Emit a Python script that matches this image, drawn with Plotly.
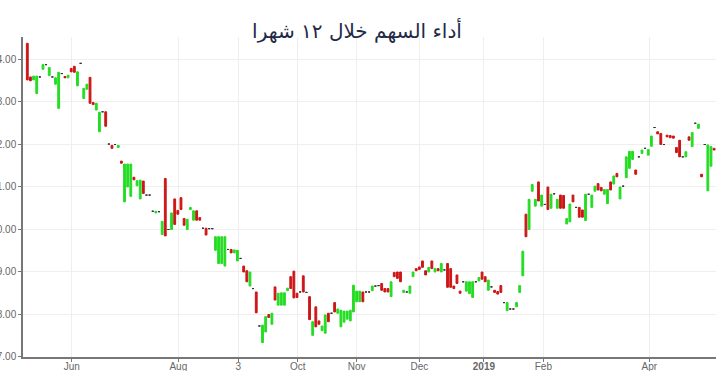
import numpy as np
import plotly.graph_objects as go

# Daily open / close prices (bodies only; equal values = unchanged day)
opens = [
    14.37, 13.58, 13.51, 13.19, 13.58, 13.76, 13.87, 13.61, 13.58, 13.41,
    12.84, 13.66, 13.59, 13.56, 13.78, 13.83, 13.37, 13.90, 13.07, 13.29,
    13.57, 12.98, 12.80, 12.29, 12.76, 12.76, 12.00, 11.97, 11.99, 11.92,
    11.60, 10.64, 10.99, 10.77, 11.22, 11.02, 10.71, 11.13, 10.80, 10.80,
    10.42, 10.38, 10.41, 9.87, 11.19, 9.99, 9.99, 10.71, 10.44, 10.74,
    10.25, 9.99, 10.46, 10.21, 10.43, 10.27, 10.02, 10.02, 10.01, 10.01,
    9.50, 9.19, 9.19, 9.13, 9.52, 9.52, 9.44, 9.25, 9.31, 9.13,
    9.02, 8.66, 8.60, 8.52, 7.72, 7.33, 7.58, 7.99, 7.76, 8.64,
    8.21, 8.21, 8.21, 8.55, 8.88, 9.01, 8.49, 8.52, 8.90, 8.51,
    8.41, 7.50, 8.17, 7.84, 7.61, 7.55, 8.02, 8.02, 8.27, 8.02,
    7.70, 7.81, 7.88, 7.84, 8.05, 8.29, 8.29, 8.52, 8.52, 8.52,
    8.55, 8.66, 8.67, 8.72, 8.60, 8.60, 8.41, 8.98, 8.99, 8.99,
    8.51, 8.52, 8.49, 8.88, 9.07, 9.11, 9.25, 9.02, 8.99, 9.25,
    8.99, 9.07, 8.99, 9.04, 9.19, 9.07, 8.66, 8.92, 8.54, 8.76,
    8.54, 8.48, 8.39, 8.76, 8.78, 8.99, 8.88, 8.56, 8.64, 8.56,
    8.53, 8.67, 8.27, 8.08, 8.12, 8.12, 8.17, 8.51, 8.90, 10.35,
    9.99, 10.89, 10.54, 11.11, 10.54, 10.58, 10.99, 10.49, 10.83, 10.49,
    10.80, 10.79, 10.12, 10.17, 10.80, 10.51, 10.51, 10.45, 10.20, 10.82,
    10.51, 10.89, 11.07, 10.98, 10.82, 10.60, 11.11, 11.06, 11.31, 10.71,
    11.01, 11.21, 11.43, 11.64, 11.39, 11.70, 11.78, 11.90, 11.74, 11.95,
    12.39, 12.29, 12.25, 11.99, 12.21, 12.20, 12.19, 11.92, 12.09, 11.70,
    11.70, 12.17, 11.94, 12.49, 12.37, 11.29, 11.99, 10.90, 11.48, 11.90,
]
closes = [
    13.51, 13.49, 13.60, 13.60, 13.58, 13.87, 13.87, 13.80, 13.58, 13.56,
    13.69, 13.66, 13.56, 13.62, 13.70, 13.69, 13.70, 13.90, 13.31, 13.41,
    12.96, 12.93, 12.96, 12.75, 12.76, 12.42, 12.00, 11.90, 11.99, 11.97,
    11.55, 11.53, 11.53, 11.53, 11.16, 11.14, 11.15, 10.84, 10.80, 10.80,
    10.42, 10.42, 10.41, 10.18, 9.84, 9.99, 10.38, 10.11, 10.35, 10.46,
    10.09, 10.23, 10.51, 10.43, 10.21, 10.21, 10.02, 9.86, 10.01, 10.01,
    9.82, 9.82, 9.82, 9.82, 9.52, 9.44, 9.51, 9.50, 9.31, 8.99,
    8.76, 8.99, 8.60, 8.03, 7.72, 7.74, 7.94, 7.92, 8.02, 8.33,
    8.49, 8.50, 8.50, 8.61, 8.60, 8.38, 8.39, 8.52, 8.52, 8.51,
    7.87, 7.82, 7.70, 7.76, 7.72, 7.98, 7.82, 8.02, 8.05, 8.12,
    8.09, 8.07, 8.07, 8.09, 8.68, 8.54, 8.54, 8.29, 8.52, 8.52,
    8.66, 8.66, 8.67, 8.56, 8.52, 8.52, 8.76, 8.88, 8.84, 8.76,
    8.56, 8.52, 8.66, 8.99, 9.02, 9.05, 9.10, 8.92, 9.10, 9.07,
    9.07, 9.02, 9.19, 9.04, 8.63, 8.63, 8.60, 8.72, 8.49, 8.76,
    8.76, 8.76, 8.76, 8.76, 8.86, 8.82, 8.76, 8.80, 8.64, 8.51,
    8.47, 8.51, 8.27, 8.27, 8.12, 8.12, 8.27, 8.67, 9.48, 9.82,
    10.70, 11.05, 10.70, 10.66, 10.80, 10.58, 10.46, 10.82, 10.83, 10.70,
    10.49, 10.49, 10.25, 10.59, 10.64, 10.51, 10.28, 10.28, 10.82, 10.82,
    10.80, 11.01, 10.92, 10.90, 10.93, 10.93, 10.92, 11.25, 11.23, 10.99,
    11.01, 11.70, 11.83, 11.83, 11.29, 11.70, 11.86, 11.90, 11.87, 12.19,
    12.39, 12.24, 11.99, 11.99, 12.17, 12.15, 12.14, 11.80, 11.70, 11.70,
    11.82, 12.09, 12.27, 12.49, 12.47, 11.23, 11.99, 11.98, 11.94, 11.86,
]

x_tick_pos = [14.16, 48.15, 67.29, 86.22, 105.04, 125.0, 145.6, 164.54, 198.34]
x_tick_text = ["Jun", "Aug", "3", "Oct", "Nov", "Dec", "<b>2019</b>", "Feb", "Apr"]
y_tick_vals = [7, 8, 9, 10, 11, 12, 13, 14]

TITLE = "أداء السهم خلال ١٢ شهرا"
GREEN = "#24dc24"
RED = "#cc1616"
DOJI = "#333333"

o = np.array(opens)
c = np.array(closes)
x = np.arange(len(o))
hi = np.maximum(o, c)
lo = np.minimum(o, c)
flat = o == c
move = ~flat

fig = go.Figure()
fig.add_trace(go.Candlestick(
    x=x[move], open=o[move], high=hi[move], low=lo[move], close=c[move],
    increasing=dict(fillcolor=GREEN, line=dict(color=GREEN, width=1)),
    decreasing=dict(fillcolor=RED, line=dict(color=RED, width=1)),
    whiskerwidth=0, showlegend=False, hoverinfo="skip",
))
fig.add_trace(go.Candlestick(
    x=x[flat], open=o[flat], high=hi[flat], low=lo[flat], close=c[flat],
    increasing=dict(fillcolor=DOJI, line=dict(color=DOJI, width=1)),
    decreasing=dict(fillcolor=DOJI, line=dict(color=DOJI, width=1)),
    whiskerwidth=0, showlegend=False, hoverinfo="skip",
))

axis_common = dict(
    showgrid=True, gridcolor="#efefef", gridwidth=1,
    showline=True, linecolor="#777777", linewidth=1.5,
    ticks="outside", ticklen=3, tickcolor="#777777", tickwidth=1,
    tickfont=dict(family="Liberation Sans, Arial, sans-serif", size=10, color="#666666"),
    zeroline=False, automargin=False,
)

fig.update_layout(
    template="none",
    width=720, height=371,
    margin=dict(l=23, r=4, t=37, b=14),
    paper_bgcolor="white", plot_bgcolor="white",
    boxgap=0.42, boxgroupgap=0.0,
    title=dict(
        text=TITLE, x=357 / 720, xanchor="center", xref="container",
        y=1 - 31 / 371, yref="container", yanchor="middle",
        font=dict(family="DejaVu Sans, sans-serif", size=20, color="#1f2a48"),
    ),
    xaxis=dict(
        range=[-1.37, 219.6], tickmode="array", tickvals=x_tick_pos, ticktext=x_tick_text,
        rangeslider=dict(visible=False), ticklabelstandoff=-4, **axis_common,
    ),
    yaxis=dict(
        range=[6.99, 14.52], tickmode="array", tickvals=y_tick_vals, tickformat=".2f",
        **axis_common,
    ),
    showlegend=False,
)

fig.write_html("out.html")
